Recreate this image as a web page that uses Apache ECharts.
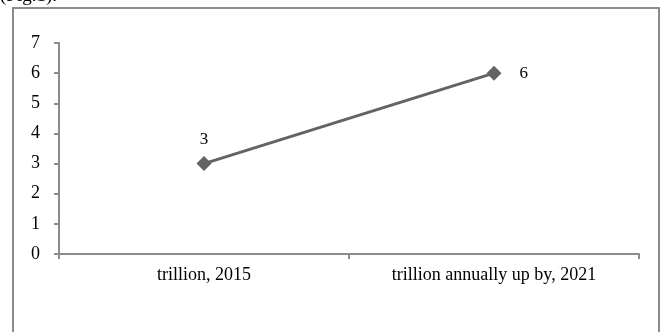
<!DOCTYPE html>
<html>
<head>
<meta charset="utf-8">
<script src="https://cdn.jsdelivr.net/npm/echarts@6/dist/echarts.min.js"></script>
<style>
html,body{margin:0;padding:0;background:#fff;}
#chart{width:662px;height:332px;}
</style>
</head>
<body>
<div id="chart"></div>
<script>
const categories = ["trillion, 2015", "trillion annually up by, 2021"];
const values = [3, 6];
const yTicks = [0, 1, 2, 3, 4, 5, 6, 7];

const FONT = "'Liberation Serif', 'Times New Roman', serif";
const chart = echarts.init(document.getElementById('chart'), null, {renderer: 'canvas'});
chart.setOption({
  animation: false,
  backgroundColor: '#ffffff',
  graphic: [
    {type: 'rect', shape: {x: 13, y: 8, width: 646, height: 340},
     style: {fill: 'none', stroke: '#8c8c8c', lineWidth: 2}, silent: true},
    {type: 'text', left: 0, top: -13,
     style: {text: '(Fig.1).', font: '19px ' + FONT, fill: '#000'}}
  ],
  grid: {left: 59, right: 23, top: 43, bottom: 78, containLabel: false},
  xAxis: {
    type: 'category',
    data: categories,
    boundaryGap: true,
    axisLine: {lineStyle: {color: '#8c8c8c', width: 2}},
    axisTick: {show: true, inside: false, length: 5, lineStyle: {color: '#8c8c8c', width: 2}},
    axisLabel: {color: '#000', fontFamily: FONT, fontSize: 18, margin: 12}
  },
  yAxis: {
    type: 'value',
    min: yTicks[0],
    max: yTicks[yTicks.length - 1],
    interval: 1,
    splitLine: {show: false},
    axisLine: {show: true, lineStyle: {color: '#8c8c8c', width: 2}},
    axisTick: {show: true, inside: false, length: 5, lineStyle: {color: '#8c8c8c', width: 2}},
    axisLabel: {color: '#000', fontFamily: FONT, fontSize: 18, margin: 19}
  },
  series: [{
    type: 'line',
    data: values,
    symbol: 'diamond',
    symbolSize: 15,
    itemStyle: {color: '#636363'},
    lineStyle: {color: '#636363', width: 3},
    label: {
      show: true,
      color: '#000',
      fontFamily: FONT,
      fontSize: 17,
      position: 'top',
      distance: 8
    },
    emphasis: {disabled: true}
  }]
});
chart.setOption({
  series: [{
    data: [
      {value: values[0], label: {position: 'top', distance: 8}},
      {value: values[1], label: {position: 'right', distance: 18}}
    ]
  }]
});
</script>
</body>
</html>
